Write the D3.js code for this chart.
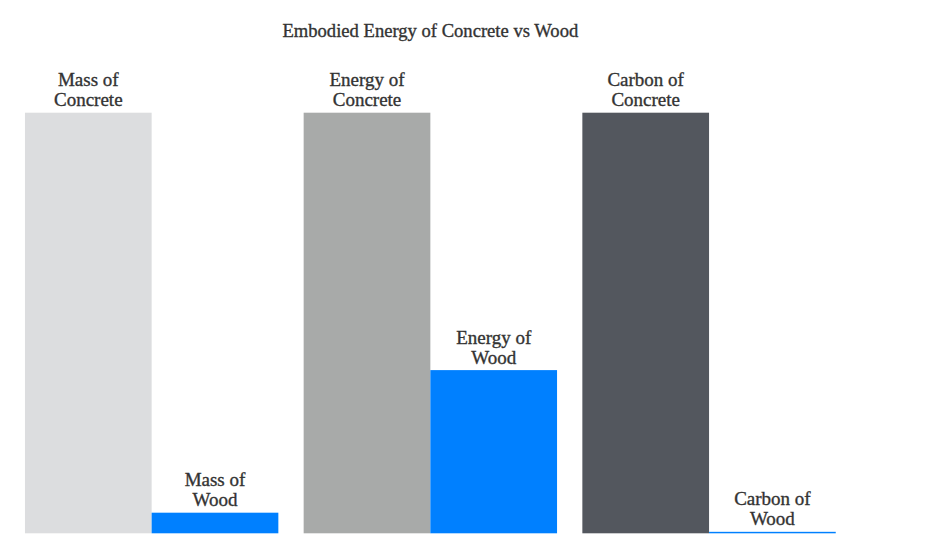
<!DOCTYPE html>
<html><head><meta charset="utf-8">
<script src="https://cdn.jsdelivr.net/npm/d3@7"></script>
<style>body{margin:0;background:#fff}</style>
</head><body>
<svg id="chart" width="927" height="553"></svg>
<script>
const groups = ["Mass", "Energy", "Carbon"];
const materials = ["Concrete", "Wood"];
const concreteValues = [100, 100, 100];
const woodValues = [4.9, 38.8, 0.35];
const concreteLabels = [["Mass of", "Concrete"], ["Energy of", "Concrete"], ["Carbon of", "Concrete"]];
const woodLabels = [["Mass of", "Wood"], ["Energy of", "Wood"], ["Carbon of", "Wood"]];
const concreteColors = ["#dcdddf", "#a8aaa9", "#53575e"];
const woodColor = "#0080ff";
const title = "Embodied Energy of Concrete vs Wood";

const svg = d3.select("#chart");
const x0 = d3.scaleBand().domain(groups).range([12.3, 848.4]).paddingInner(0.0908).paddingOuter(0.0454);
const x1 = d3.scaleBand().domain(materials).range([0, x0.bandwidth()]);
const y = d3.scaleLinear().domain([0, 100]).range([533.3, 112.7]);

const rows = [];
groups.forEach((g, i) => {
  rows.push({g, m: "Concrete", v: concreteValues[i], lab: concreteLabels[i], c: concreteColors[i]});
  rows.push({g, m: "Wood", v: woodValues[i], lab: woodLabels[i], c: woodColor});
});

svg.append("text").attr("x", (x0.range()[0] + x0.range()[1]) / 2).attr("y", 37)
  .attr("text-anchor", "middle").attr("font-family", "Liberation Serif, serif")
  .attr("font-size", 18.6).attr("fill", "#333").attr("stroke", "#333").attr("stroke-width", 0.35)
  .text(title);

svg.selectAll("rect.bar").data(rows).join("rect").attr("class", "bar")
  .attr("x", d => x0(d.g) + x1(d.m)).attr("width", x1.bandwidth())
  .attr("y", d => y(d.v)).attr("height", d => y(0) - y(d.v)).attr("fill", d => d.c);

const lab = svg.selectAll("text.lab").data(rows).join("text").attr("class", "lab")
  .attr("text-anchor", "middle").attr("font-family", "Liberation Serif, serif")
  .attr("font-size", 19).attr("fill", "#333").attr("stroke", "#333").attr("stroke-width", 0.35);
lab.each(function(d) {
  const t = d3.select(this);
  const cx = x0(d.g) + x1(d.m) + x1.bandwidth() / 2;
  const base = y(d.v) - 6.5;
  t.append("tspan").attr("x", cx).attr("y", base - 20).text(d.lab[0]);
  t.append("tspan").attr("x", cx).attr("y", base).text(d.lab[1]);
});
</script>
</body></html>
